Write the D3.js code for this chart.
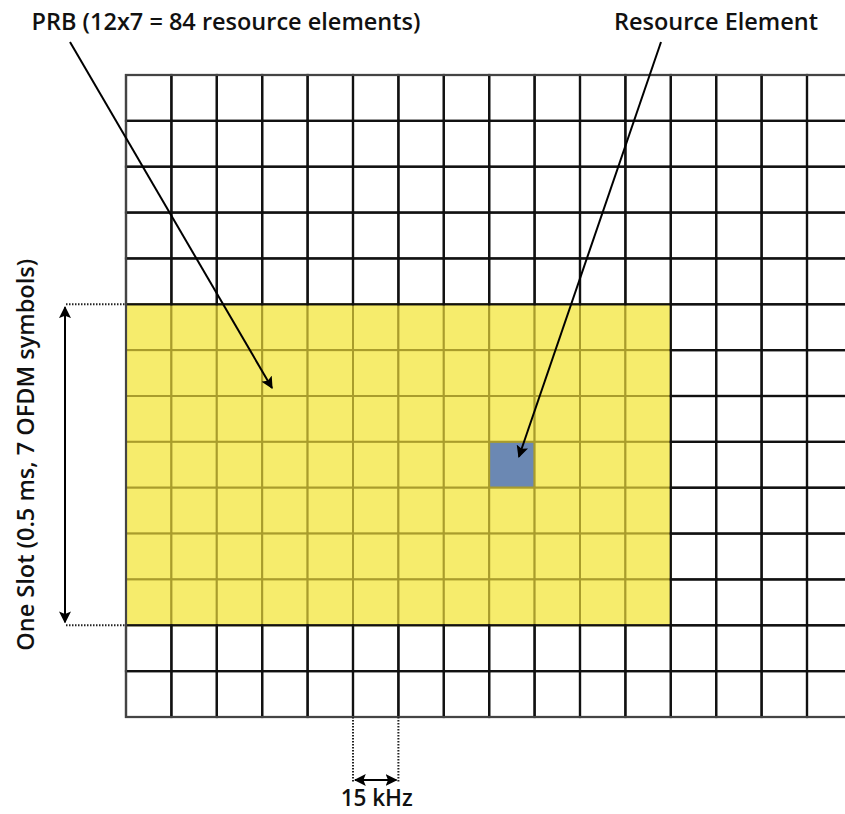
<!DOCTYPE html>
<html>
<head>
<meta charset="utf-8">
<script src="https://cdn.jsdelivr.net/npm/d3@7"></script>
<style>
  body { margin: 0; background: #fff; }
  svg { display: block; }
</style>
</head>
<body>
<script>
var width = 845;
var height = 814;

// Grid size (subcarriers x OFDM symbols shown).
var numCols = 16;
var numRows = 14;

// PRB block: column range and row range (end exclusive).
var prbCols = [0, 12];
var prbRows = [5, 12];

// Highlighted resource element.
var reCell = [8, 8];

// Labels.
var prbLabel = 'PRB (12x7 = 84 resource elements)';
var reLabel = 'Resource Element';
var slotLabel = 'One Slot (0.5 ms, 7 OFDM symbols)';
var freqLabel = '15 kHz';
var freqCols = [5, 6];

// Scales.
var x = d3.scaleLinear().domain([0, numCols]).range([126, 126 + numCols * 45.4]);
var y = d3.scaleLinear().domain([0, numRows]).range([75, 717]);

// Create SVG canvas.
var svg = d3.select('body')
  .append('svg')
  .attr('width', width)
  .attr('height', height);

var defs = svg.append('defs');
defs.append('marker')
  .attr('id', 'head')
  .attr('viewBox', '0 0 10 10')
  .attr('refX', 9)
  .attr('refY', 5)
  .attr('markerWidth', 6)
  .attr('markerHeight', 6)
  .attr('markerUnits', 'strokeWidth')
  .attr('orient', 'auto-start-reverse')
  .append('path')
  .attr('d', 'M0,0 L10,5 L0,10 L2,5 Z')
  .attr('fill', '#000');

// Build cells.
var cells = [];
for (var r = 0; r < numRows; r++) {
  for (var c = 0; c < numCols; c++) {
    var inPrb = c >= prbCols[0] && c < prbCols[1] && r >= prbRows[0] && r < prbRows[1];
    cells.push({col: c, row: r, prb: inPrb, re: c == reCell[0] && r == reCell[1]});
  }
}

// Yellow PRB cells first, white cells on top so black borders win.
svg.append('g')
  .selectAll('rect')
  .data(cells.filter(function(d) { return d.prb; }))
  .enter().append('rect')
  .attr('x', function(d) { return x(d.col); })
  .attr('y', function(d) { return y(d.row); })
  .attr('width', x(1) - x(0))
  .attr('height', y(1) - y(0))
  .attr('fill', function(d) { return d.re ? '#6b88b3' : '#f6ec6c'; })
  .attr('stroke', '#a99c2c')
  .attr('stroke-width', 2);

svg.append('g')
  .selectAll('rect')
  .data(cells.filter(function(d) { return !d.prb; }))
  .enter().append('rect')
  .attr('x', function(d) { return x(d.col); })
  .attr('y', function(d) { return y(d.row); })
  .attr('width', x(1) - x(0))
  .attr('height', y(1) - y(0))
  .attr('fill', 'none')
  .attr('stroke', '#111')
  .attr('stroke-width', 2.2);

// Outer border of the grid is slightly lighter.
svg.append('path')
  .attr('d', 'M' + x(numCols) + ',' + y(0) + 'H' + x(0) + 'V' + y(numRows) + 'H' + x(numCols))
  .attr('fill', 'none')
  .attr('stroke', '#444')
  .attr('stroke-width', 2.2);

var ann = svg.append('g')
  .attr('font-family', '"Open Sans", sans-serif')
  .attr('font-weight', 600)
  .attr('fill', '#111');

// Slot span on the left.
[prbRows[0], prbRows[1]].forEach(function(r) {
  svg.append('line')
    .attr('x1', 66).attr('x2', x(0))
    .attr('y1', y(r)).attr('y2', y(r))
    .attr('stroke', '#222')
    .attr('stroke-width', 2)
    .attr('stroke-dasharray', '1.5,1.5');
});
svg.append('line')
  .attr('x1', 65).attr('x2', 65)
  .attr('y1', y(prbRows[0]) + 3).attr('y2', y(prbRows[1]) - 3)
  .attr('stroke', '#000')
  .attr('stroke-width', 2)
  .attr('marker-start', 'url(#head)')
  .attr('marker-end', 'url(#head)');

ann.append('text')
  .attr('transform', 'translate(34,' + ((y(prbRows[0]) + y(prbRows[1])) / 2 - 10) + ') rotate(-90)')
  .attr('text-anchor', 'middle')
  .attr('font-size', 23.5)
  .text(slotLabel);

// Subcarrier spacing at the bottom.
freqCols.forEach(function(c) {
  svg.append('line')
    .attr('x1', x(c)).attr('x2', x(c))
    .attr('y1', y(numRows)).attr('y2', 782)
    .attr('stroke', '#222')
    .attr('stroke-width', 2)
    .attr('stroke-dasharray', '1.5,1.5');
});
svg.append('line')
  .attr('x1', x(freqCols[0]) + 2).attr('x2', x(freqCols[1]) - 2)
  .attr('y1', 780).attr('y2', 780)
  .attr('stroke', '#000')
  .attr('stroke-width', 2)
  .attr('marker-start', 'url(#head)')
  .attr('marker-end', 'url(#head)');

ann.append('text')
  .attr('x', (x(freqCols[0]) + x(freqCols[1])) / 2 + 1)
  .attr('y', 806)
  .attr('text-anchor', 'middle')
  .attr('font-size', 22.5)
  .text(freqLabel);

// Top labels and their pointers.
ann.append('text')
  .attr('x', 226)
  .attr('y', 30)
  .attr('text-anchor', 'middle')
  .attr('font-size', 23.5)
  .text(prbLabel);

ann.append('text')
  .attr('x', 716)
  .attr('y', 30)
  .attr('text-anchor', 'middle')
  .attr('font-size', 23.5)
  .text(reLabel);

svg.append('line')
  .attr('x1', 70).attr('y1', 42)
  .attr('x2', 272).attr('y2', 388)
  .attr('stroke', '#000')
  .attr('stroke-width', 2)
  .attr('marker-end', 'url(#head)');

svg.append('line')
  .attr('x1', 661).attr('y1', 42)
  .attr('x2', (x(reCell[0]) + x(reCell[0] + 1)) / 2 + 7)
  .attr('y2', (y(reCell[1]) + y(reCell[1] + 1)) / 2 - 8)
  .attr('stroke', '#000')
  .attr('stroke-width', 2)
  .attr('marker-end', 'url(#head)');
</script>
</body>
</html>
